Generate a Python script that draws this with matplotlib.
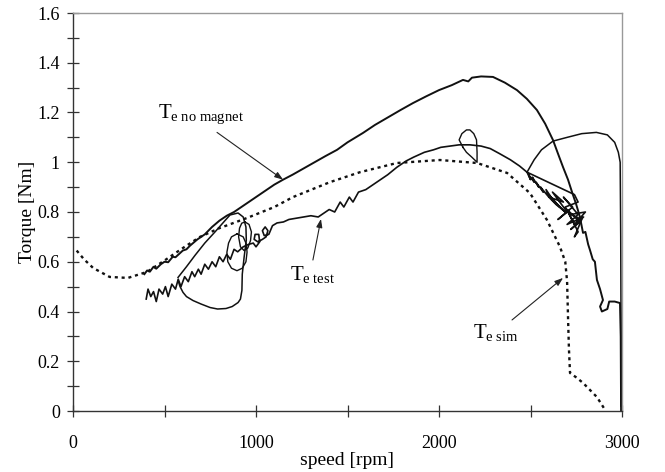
import matplotlib
matplotlib.use("Agg")
import matplotlib.pyplot as plt
from matplotlib.ticker import MultipleLocator, FuncFormatter

plt.rcParams['font.family'] = ['Liberation Serif', 'DejaVu Serif']
plt.rcParams['mathtext.fontset'] = 'custom'
plt.rcParams['mathtext.rm'] = 'Liberation Serif'
plt.rcParams['mathtext.it'] = 'Liberation Serif:italic'

# ---------------- data ----------------
# simulated torque (dashed)
sim_rpm = [20, 60, 110, 200, 300, 404, 500, 600, 694, 800, 951, 1100, 1202, 1404, 1568,
           1770, 2005, 2208, 2372, 2497, 2590, 2661, 2690, 2700, 2705, 2710, 2716, 2750,
           2787, 2863, 2907]
sim_T = [0.645, 0.61, 0.575, 0.539, 0.535, 0.559, 0.605, 0.655, 0.70, 0.735, 0.776, 0.82,
         0.86, 0.92, 0.96, 0.997, 1.009, 0.997, 0.957, 0.876, 0.768, 0.66, 0.60, 0.52,
         0.378, 0.25, 0.153, 0.135, 0.113, 0.056, 0.005]

# torque without magnet (upper solid)
nomag_rpm = [390, 405, 420, 440, 455, 480, 500, 520, 545, 560, 600, 620, 640, 680, 700,
             720, 760, 800, 840, 880, 920, 960, 1000, 1050, 1100, 1148, 1200, 1260,
             1320, 1380, 1443, 1500, 1585, 1650, 1720, 1790, 1858, 1930, 2000, 2070,
             2131, 2160, 2180, 2230, 2295, 2360, 2426, 2480, 2535, 2580, 2623, 2650,
             2678, 2705, 2727, 2750, 2770, 2787, 2800, 2815, 2825, 2840, 2852, 2863, 2880,
             2896, 2880, 2890, 2920, 2930, 2960, 2989, 2993, 2995]
nomag_T = [0.55, 0.565, 0.56, 0.58, 0.572, 0.59, 0.60, 0.598, 0.62, 0.618, 0.645, 0.65,
           0.665, 0.69, 0.70, 0.71, 0.74, 0.765, 0.785, 0.80, 0.82, 0.84, 0.86, 0.885,
           0.91, 0.93, 0.95, 0.975, 1.0, 1.025, 1.05, 1.08, 1.118, 1.15, 1.18, 1.21,
           1.238, 1.265, 1.29, 1.31, 1.331, 1.325, 1.34, 1.345, 1.343, 1.32, 1.29, 1.255,
           1.21, 1.155, 1.089, 1.035, 0.98, 0.93, 0.88, 0.83, 0.78, 0.716, 0.72, 0.67,
           0.647, 0.61, 0.60, 0.527, 0.49, 0.446, 0.42, 0.40, 0.41, 0.44, 0.44, 0.434,
           0.30, 0.0]

# measured torque (lower solid, noisy) incl. the tangle near 2500-2800 rpm
test_rpm = [400, 410, 425, 440, 455, 470, 490, 505, 520, 540, 560, 575, 590, 610, 630,
            650, 665, 685, 700, 720, 740, 760, 780, 800, 820, 840, 860, 880, 900, 930,
            960, 985, 1000, 1020, 1015, 995, 990, 1010, 1035, 1055, 1065, 1050, 1035,
            1045, 1070, 1090, 1115, 1150, 1180, 1220, 1260, 1300, 1340, 1360, 1400,
            1430, 1460, 1480, 1510, 1530, 1560, 1600, 1640, 1680, 1720, 1770, 1820,
            1860, 1920, 1970, 2010, 2060, 2110, 2170, 2230, 2280, 2330, 2390, 2440, 2481,
            2500, 2490, 2520, 2510, 2545, 2530, 2570, 2555, 2600, 2585, 2630, 2600, 2660,
            2620, 2690, 2640, 2600, 2680, 2620, 2700, 2650, 2730, 2680, 2760, 2700, 2790,
            2720, 2770, 2700, 2760, 2740, 2780, 2720, 2800, 2740, 2690, 2760, 2740, 2481]
test_T = [0.45, 0.49, 0.46, 0.48, 0.44, 0.49, 0.47, 0.50, 0.46, 0.51, 0.49, 0.53, 0.50,
          0.54, 0.52, 0.56, 0.54, 0.57, 0.55, 0.59, 0.57, 0.60, 0.58, 0.62, 0.60, 0.63,
          0.61, 0.65, 0.64, 0.66, 0.67, 0.675, 0.66, 0.68, 0.71, 0.71, 0.69, 0.68, 0.69,
          0.70, 0.725, 0.74, 0.725, 0.705, 0.71, 0.745, 0.756, 0.76, 0.77, 0.775, 0.78,
          0.785, 0.78, 0.79, 0.81, 0.80, 0.84, 0.82, 0.86, 0.84, 0.88, 0.89, 0.91, 0.93,
          0.95, 0.98, 1.005, 1.02, 1.04, 1.05, 1.06, 1.065, 1.07, 1.07, 1.065, 1.055,
          1.035, 1.01, 0.985, 0.96,
          0.93, 0.95, 0.92, 0.94, 0.90, 0.92, 0.88, 0.90, 0.86, 0.89, 0.84, 0.87, 0.82,
          0.85, 0.80, 0.83, 0.86, 0.84, 0.88, 0.80, 0.77, 0.82, 0.86, 0.79, 0.75, 0.78,
          0.73, 0.76, 0.81, 0.72, 0.70, 0.77, 0.79, 0.80, 0.75, 0.82, 0.84, 0.87, 0.96]

# large loop of the measured torque around 600-950 rpm
loop_rpm = [574, 620, 667, 720, 776, 830, 858, 902, 930, 945, 947, 935, 925, 923, 915,
            902, 870, 836, 790, 749, 700, 656, 620, 601, 585, 574]
loop_T = [0.537, 0.58, 0.626, 0.675, 0.72, 0.765, 0.788, 0.796, 0.78, 0.74, 0.687, 0.618,
          0.55, 0.485, 0.45, 0.436, 0.42, 0.412, 0.41, 0.416, 0.43, 0.444, 0.46, 0.477,
          0.50, 0.525]

# two smaller rings near 900 rpm
ring1_rpm = [896, 930, 948, 951, 945, 925, 896, 866, 846, 841, 850, 866, 896]
ring1_T = [0.712, 0.70, 0.67, 0.638, 0.60, 0.574, 0.564, 0.574, 0.60, 0.638, 0.675, 0.70, 0.712]
ring2_rpm = [940, 962, 975, 970, 955, 935, 915, 905, 910, 922, 940]
ring2_T = [0.76, 0.75, 0.72, 0.685, 0.655, 0.645, 0.66, 0.70, 0.735, 0.755, 0.76]

# small teardrop loop near 2150 rpm
tear_rpm = [2131, 2110, 2125, 2150, 2169, 2190, 2205, 2208, 2208, 2180, 2150, 2131]
tear_T = [1.06, 1.09, 1.115, 1.13, 1.13, 1.115, 1.09, 1.04, 1.0, 1.02, 1.04, 1.06]

# arc at high speed
arc_rpm = [2481, 2520, 2560, 2623, 2700, 2780, 2860, 2920, 2960, 2980, 2990, 2993, 2995, 2995]
arc_T = [0.96, 1.01, 1.05, 1.085, 1.10, 1.115, 1.12, 1.11, 1.08, 1.04, 1.0, 0.7, 0.3, 0.02]

# ---------------- figure ----------------
fig = plt.figure(figsize=(6.65, 4.72), dpi=100)
ax = fig.add_axes([73/665, 61/472, 549/665, 398/472])

lc = '#111111'
ax.plot(sim_rpm, sim_T, color=lc, lw=1.7, linestyle=(0, (1.3, 1.6)))
ax.plot(nomag_rpm, nomag_T, color=lc, lw=1.4)
ax.plot(test_rpm, test_T, color=lc, lw=1.2)
ax.plot(loop_rpm, loop_T, color=lc, lw=1.1)
ax.plot(ring1_rpm, ring1_T, color=lc, lw=1.0)
ax.plot(ring2_rpm, ring2_T, color=lc, lw=1.0)
ax.plot(tear_rpm, tear_T, color=lc, lw=1.0)
ax.plot(arc_rpm, arc_T, color=lc, lw=1.1)

ax.set_xlim(0, 3000)
ax.set_ylim(0, 1.6)
ax.xaxis.set_major_locator(MultipleLocator(1000))
ax.xaxis.set_minor_locator(MultipleLocator(500))
ax.yaxis.set_major_locator(MultipleLocator(0.2))
ax.yaxis.set_minor_locator(MultipleLocator(0.1))
ax.yaxis.set_major_formatter(FuncFormatter(lambda v, p: f'{v:g}'))
ax.xaxis.set_major_formatter(FuncFormatter(lambda v, p: f'{v:g}'))

ax.tick_params(which='both', direction='inout', color='#333333', width=0.9,
               top=False, right=False, labelsize=13)
ax.tick_params(axis='x', which='major', length=8, pad=13)
ax.tick_params(axis='x', which='minor', length=8)
ax.tick_params(axis='y', which='major', length=9, pad=5)
ax.tick_params(axis='y', which='minor', length=9)

for s in ['left', 'bottom']:
    ax.spines[s].set_color('#333333')
    ax.spines[s].set_linewidth(1.0)
for s in ['top', 'right']:
    ax.spines[s].set_color('#999999')
    ax.spines[s].set_linewidth(1.0)

ax.set_xlabel('speed [rpm]', fontsize=14, labelpad=0)
ax.set_ylabel('Torque [Nm]', fontsize=14, labelpad=1)

# labels and arrows
arrow = dict(arrowstyle='-|>,head_length=0.5,head_width=0.18', color='#222222', lw=0.8,
             shrinkA=0, shrinkB=0)
ax.text(464, 1.178, r'$\mathrm{T}_{\mathrm{e\ no\ magnet}}$', fontsize=15,
        ha='left', va='baseline')
ax.annotate('', xy=(1148, 0.93), xytext=(787, 1.12), arrowprops=arrow)

ax.text(1186, 0.527, r'$\mathrm{T}_{\mathrm{e\ test}}$', fontsize=15,
        ha='left', va='baseline')
ax.annotate('', xy=(1355, 0.772), xytext=(1311, 0.607), arrowprops=arrow)

ax.text(2186, 0.293, r'$\mathrm{T}_{\mathrm{e\ sim}}$', fontsize=15,
        ha='left', va='baseline')
ax.annotate('', xy=(2678, 0.535), xytext=(2399, 0.366), arrowprops=arrow)

fig.savefig('out.png', dpi=100)
